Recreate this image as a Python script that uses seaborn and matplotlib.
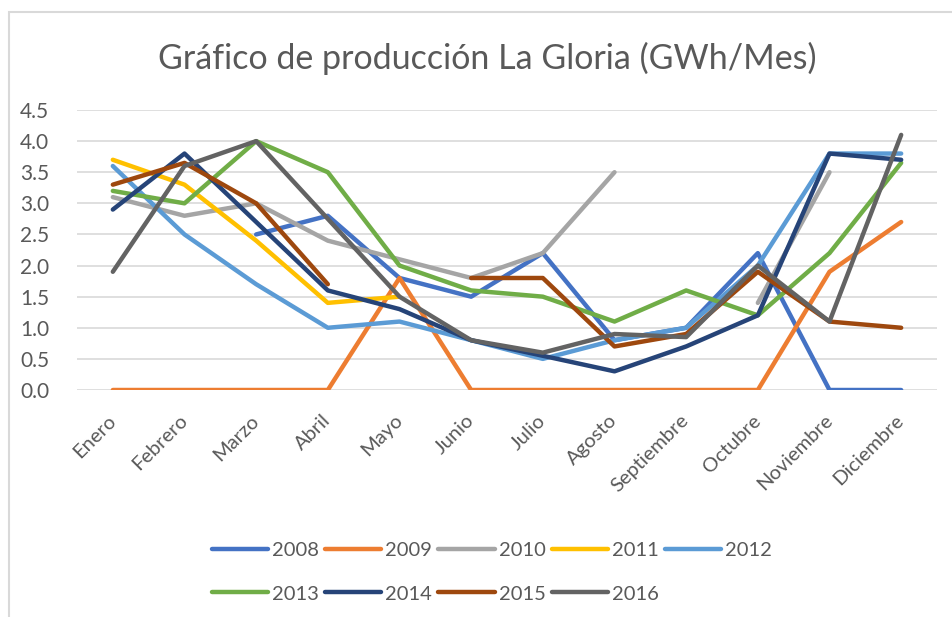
import numpy as np
import pandas as pd
import seaborn as sns
import matplotlib.pyplot as plt
from matplotlib.patches import Rectangle

nan = np.nan

# datos de producción (GWh/Mes)
meses = ["Enero", "Febrero", "Marzo", "Abril", "Mayo", "Junio", "Julio",
         "Agosto", "Septiembre", "Octubre", "Noviembre", "Diciembre"]
anios = ["2008", "2009", "2010", "2011", "2012", "2013", "2014", "2015", "2016"]

v2008 = [nan, nan, 2.5, 2.8, 1.8, 1.5, 2.2, 0.8, 1.0, 2.2, 0.0, 0.0]
v2009 = [0.0, 0.0, 0.0, 0.0, 1.8, 0.0, 0.0, 0.0, 0.0, 0.0, 1.9, 2.7]
v2010 = [3.1, 2.8, 3.0, 2.4, 2.1, 1.8, 2.2, 3.5, nan, 1.4, 3.5, nan]
v2011 = [3.7, 3.3, 2.4, 1.4, 1.5, nan, nan, nan, nan, nan, nan, nan]
v2012 = [3.6, 2.5, 1.7, 1.0, 1.1, 0.8, 0.5, 0.8, 1.0, 2.0, 3.8, 3.8]
v2013 = [3.2, 3.0, 4.0, 3.5, 2.0, 1.6, 1.5, 1.1, 1.6, 1.2, 2.2, 3.65]
v2014 = [2.9, 3.8, 2.7, 1.6, 1.3, 0.8, 0.55, 0.3, 0.7, 1.2, 3.8, 3.7]
v2015 = [3.3, 3.65, 3.0, 1.7, nan, 1.8, 1.8, 0.7, 0.9, 1.9, 1.1, 1.0]
v2016 = [1.9, 3.6, 4.0, 2.75, 1.5, 0.8, 0.6, 0.9, 0.85, 2.0, 1.1, 4.1]

series = [v2008, v2009, v2010, v2011, v2012, v2013, v2014, v2015, v2016]
colores = ["#4472C4", "#ED7D31", "#A5A5A5", "#FFC000", "#5B9BD5",
           "#70AD47", "#264478", "#9E480E", "#636363"]

# tabla larga, con un id de tramo para cortar la línea donde falta el dato
rows = []
for anio, vals in zip(anios, series):
    seg = 0
    for i, v in enumerate(vals):
        if np.isnan(v):
            seg += 1
            continue
        rows.append({"mes": i, "valor": v, "anio": anio, "tramo": f"{anio}-{seg}"})
df = pd.DataFrame(rows)

sns.set_style("white")
plt.rcParams["font.family"] = ["Lato", "DejaVu Sans"]
gris = "#595959"

fig = plt.figure(figsize=(9.52, 6.17), dpi=100)
ax = fig.add_axes([77 / 952, 1 - 390 / 617, 860 / 952, 280 / 617])

sns.lineplot(data=df, x="mes", y="valor", hue="anio", units="tramo",
             estimator=None, palette=dict(zip(anios, colores)),
             hue_order=anios, linewidth=3.2, solid_capstyle="round", ax=ax)

ax.set_xlim(-0.5, 11.5)
ax.set_ylim(0, 4.5)
ax.set_yticks(np.arange(0, 4.51, 0.5))
ax.set_yticklabels([f"{t:.1f}" for t in np.arange(0, 4.51, 0.5)])
ax.set_xticks(range(12))
ax.set_xticklabels(meses)
ax.grid(axis="y", color="#D9D9D9", linewidth=1.2, zorder=0)
ax.set_axisbelow(True)
for s in ax.spines.values():
    s.set_visible(False)
ax.tick_params(axis="y", length=0, pad=20, labelsize=15, labelcolor=gris)
ax.tick_params(axis="x", length=0, pad=20, labelsize=14.5, labelcolor=gris)
plt.setp(ax.get_xticklabels(), rotation=45, ha="right", va="center",
         rotation_mode="anchor")
ax.set_xlabel("")
ax.set_ylabel("")

# leyenda en dos filas, ordenada para que se lea por filas
handles, labels = ax.get_legend_handles_labels()
ax.get_legend().remove()
orden = [0, 5, 1, 6, 2, 7, 3, 8, 4]
fig.legend([handles[i] for i in orden], [labels[i] for i in orden],
           loc="upper center", bbox_to_anchor=(492 / 952, 1 - 524 / 617),
           ncol=5, frameon=False, fontsize=14.5, labelcolor=gris,
           handlelength=2.8, handletextpad=0.2, columnspacing=0.3,
           labelspacing=1.3)

fig.text(487 / 952, 1 - 58 / 617, "Gráfico de producción La Gloria (GWh/Mes)",
         ha="center", va="center", fontsize=24.5, color=gris)

fig.patches.append(Rectangle((9 / 952, -0.05), 1.1, 1 - 12 / 617 + 0.05,
                             transform=fig.transFigure, fill=False,
                             edgecolor="#D9D9D9", linewidth=1.5))

fig.savefig("out.png", dpi=100)
